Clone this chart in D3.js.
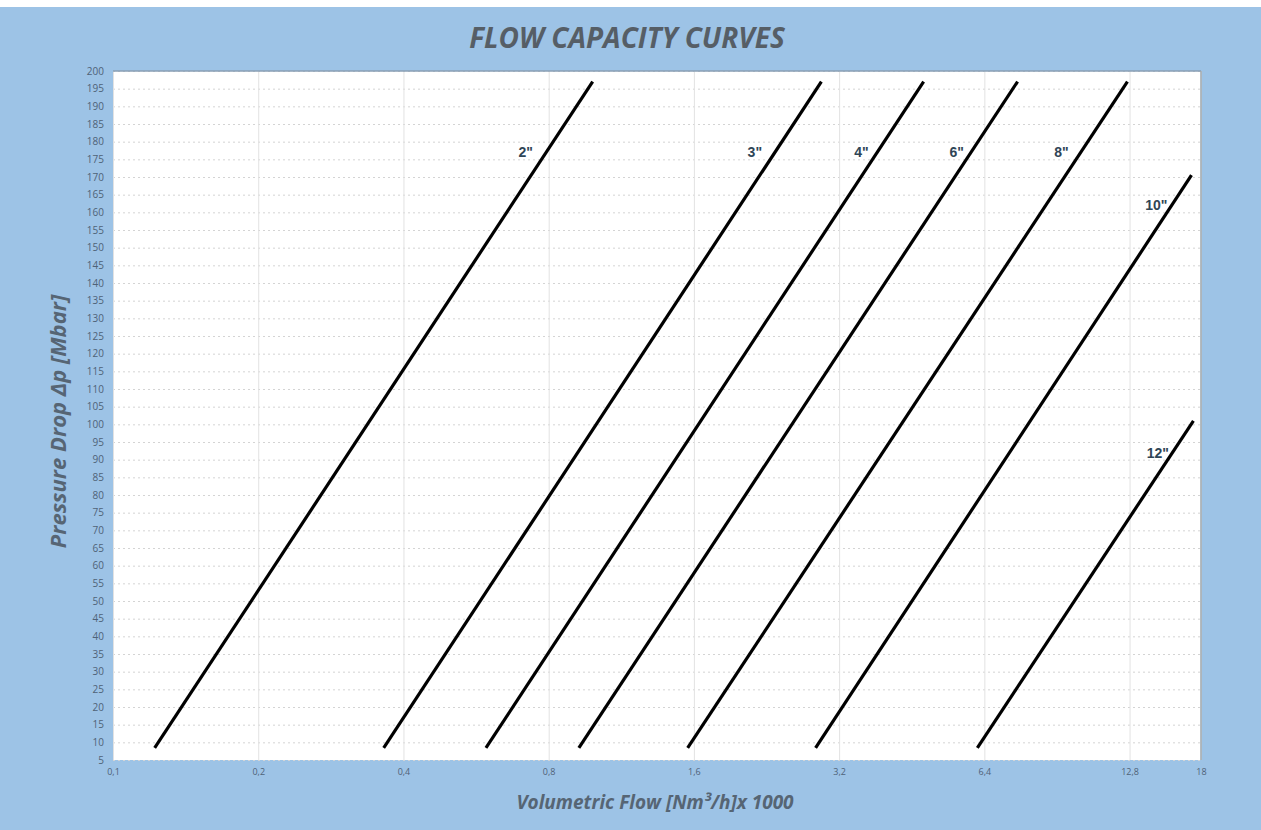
<!DOCTYPE html>
<html>
<head>
<meta charset="utf-8">
<script src="https://cdn.jsdelivr.net/npm/d3@7"></script>
<style>
  html, body { margin: 0; padding: 0; background: #fff; }
  svg { display: block; }
</style>
</head>
<body>
<div id="chart"></div>
<script>
// Flow capacity curves: pressure drop vs. volumetric flow (log x)
const sizes = ['2"', '3"', '4"', '6"', '8"', '10"', '12"'];
// start / end points of each straight curve [flow x1000, mbar]
const flowStart = [0.122, 0.364, 0.593, 0.924, 1.553, 2.86, 6.19];
const dpStart = [8.4, 8.4, 8.4, 8.4, 8.4, 8.4, 8.4];
const flowEnd = [0.987, 2.94, 4.79, 7.5, 12.67, 17.2, 17.36];
const dpEnd = [197, 197, 197, 197, 197, 170.5, 101];
// label anchor points
const labelFlow = [0.717, 2.14, 3.56, 5.61, 9.25, 14.55, 14.65];
const labelDp = [177, 177, 177, 177, 177, 162, 92];

const xTicks = [0.1, 0.2, 0.4, 0.8, 1.6, 3.2, 6.4, 12.8, 18];
const yTicks = d3.range(5, 201, 5);

const W = 1261, H = 830;
const margin = { top: 71, right: 60, bottom: 70, left: 113 };
const iW = W - margin.left - margin.right;
const iH = H - margin.top - margin.bottom;

const svg = d3.select("#chart").append("svg")
  .attr("width", W).attr("height", H);

// blue page background
svg.append("rect")
  .attr("x", 0).attr("y", 7).attr("width", W).attr("height", H - 7)
  .attr("fill", "#9dc3e6");

const x = d3.scaleLog().domain([0.1, 18]).range([0, iW]);
const y = d3.scaleLinear().domain([5, 200]).range([iH, 0]);

const g = svg.append("g")
  .attr("transform", `translate(${margin.left},${margin.top})`);

g.append("rect")
  .attr("width", iW).attr("height", iH)
  .attr("fill", "#ffffff");

// horizontal dotted grid
g.append("g")
  .call(d3.axisLeft(y).tickValues(yTicks).tickSize(-iW).tickFormat(""))
  .call((gEl) => {
    gEl.select(".domain").remove();
    gEl.selectAll("line")
      .style("stroke", "#d4d4d4")
      .style("stroke-dasharray", "2,3");
  });

// vertical solid grid
g.append("g")
  .attr("transform", `translate(0,${iH})`)
  .call(d3.axisBottom(x).tickValues(xTicks).tickSize(-iH).tickFormat(""))
  .call((gEl) => {
    gEl.select(".domain").remove();
    gEl.selectAll("line").style("stroke", "#e2e2e2");
  });

// plot border (top / right)
g.append("line").attr("x1", 0).attr("x2", iW).attr("y1", 0).attr("y2", 0)
  .style("stroke", "#8a9fb5").style("stroke-width", 1.5);
g.append("line").attr("x1", iW).attr("x2", iW).attr("y1", 0).attr("y2", iH)
  .style("stroke", "#9aa4ad").style("stroke-width", 1.5);

// axes tick labels
const fmt = (d) => String(d).replace(".", ",");

g.append("g")
  .call(d3.axisLeft(y).tickValues(yTicks).tickSize(0).tickPadding(9))
  .call((gEl) => {
    gEl.select(".domain").remove();
    gEl.selectAll("text")
      .style("fill", "#4f6277")
      .style("font-size", "10px")
      .style("font-family", "'Open Sans', sans-serif");
  });

g.append("g")
  .attr("transform", `translate(0,${iH})`)
  .call(d3.axisBottom(x).tickValues(xTicks).tickSize(0).tickPadding(9).tickFormat(fmt))
  .call((gEl) => {
    gEl.select(".domain").remove();
    gEl.selectAll("text")
      .style("fill", "#4f6277")
      .style("font-size", "9px")
      .style("font-family", "'Open Sans', sans-serif");
  });

// curves
const curves = sizes.map((s, i) => [
  [flowStart[i], dpStart[i]],
  [flowEnd[i], dpEnd[i]],
]);

const line = d3.line().x((d) => x(d[0])).y((d) => y(d[1]));

g.selectAll(".curve").data(curves).join("path")
  .attr("class", "curve")
  .attr("d", line)
  .attr("fill", "none")
  .attr("stroke", "#000")
  .attr("stroke-width", 3.2)
  .attr("stroke-linecap", "butt");

g.selectAll(".lbl").data(sizes).join("text")
  .attr("class", "lbl")
  .attr("x", (d, i) => x(labelFlow[i]))
  .attr("y", (d, i) => y(labelDp[i]))
  .attr("dy", "0.35em")
  .attr("text-anchor", "middle")
  .style("fill", "#2f4556")
  .style("font-size", "14px")
  .style("font-weight", "bold")
  .style("font-family", "'Liberation Sans', Arial, sans-serif")
  .text((d) => d);

// titles
svg.append("text")
  .attr("x", 627).attr("y", 48)
  .attr("text-anchor", "middle")
  .style("fill", "#565e66")
  .style("font-size", "28px")
  .style("font-weight", "bold")
  .style("font-style", "italic")
  .style("font-family", "'Open Sans', sans-serif")
  .text("FLOW CAPACITY CURVES");

svg.append("text")
  .attr("transform", `translate(66, ${margin.top + iH / 2 + 6}) rotate(-90)`)
  .attr("text-anchor", "middle")
  .style("fill", "#566574")
  .style("font-size", "22px")
  .style("font-weight", "bold")
  .style("font-style", "italic")
  .style("font-family", "'Open Sans', sans-serif")
  .text("Pressure Drop Δp [Mbar]");

svg.append("text")
  .attr("x", 655).attr("y", 809)
  .attr("text-anchor", "middle")
  .style("fill", "#566574")
  .style("font-size", "19px")
  .style("font-weight", "bold")
  .style("font-style", "italic")
  .style("font-family", "'Open Sans', sans-serif")
  .text("Volumetric Flow [Nm³/h]x 1000");
</script>
</body>
</html>
